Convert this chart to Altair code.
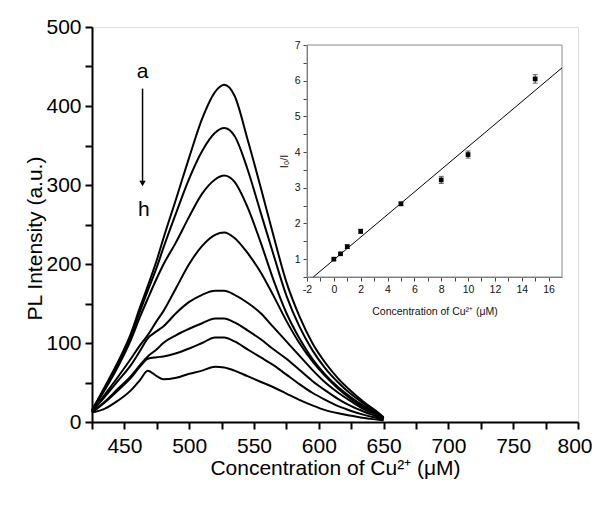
import altair as alt
import pandas as pd

# ---------------- main spectra ----------------
wavelength = [425, 435, 445, 455, 462, 468, 475, 480, 490, 500, 510, 520, 527,
              535, 545, 555, 565, 575, 585, 595, 605, 615, 625, 635, 645, 650]
curve_a = [15, 45, 76, 112, 145, 172, 205, 232, 283, 335, 384, 418, 427, 413, 358, 298, 236, 177, 134, 100, 75, 55, 39, 25, 13, 6]
curve_b = [15, 43, 73, 108, 140, 166, 196, 220, 265, 308, 343, 366, 372, 362, 320, 266, 212, 160, 121, 91, 68, 50, 35, 23, 12, 5]
curve_c = [14, 41, 70, 104, 133, 156, 182, 199, 228, 260, 289, 307, 312, 304, 272, 228, 180, 138, 106, 80, 60, 44, 31, 20, 11, 5]
curve_d = [13, 35, 57, 80, 97, 110, 128, 140, 170, 200, 223, 237, 240, 233, 214, 190, 160, 128, 100, 77, 58, 42, 29, 18, 10, 4]
curve_e = [13, 32, 52, 72, 90, 106, 115, 121, 138, 152, 161, 166, 166, 161, 151, 138, 120, 102, 84, 66, 50, 37, 26, 16, 9, 4]
curve_f = [12, 26, 42, 58, 72, 83, 92, 100, 110, 118, 125, 131, 131, 126, 116, 105, 92, 80, 66, 52, 40, 29, 20, 13, 7, 4]
curve_g = [12, 25, 40, 56, 70, 80, 82, 83, 87, 93, 100, 107, 107, 102, 92, 82, 72, 60, 48, 37, 28, 20, 14, 9, 5, 3]
curve_h = [12, 17, 27, 40, 53, 65, 58, 54, 56, 61, 65, 70, 69, 65, 58, 51, 44, 36, 28, 21, 15, 11, 8, 5, 3, 2]
series_names = ["a", "b", "c", "d", "e", "f", "g", "h"]
series_values = [curve_a, curve_b, curve_c, curve_d, curve_e, curve_f, curve_g, curve_h]

x_ticks = list(range(425, 801, 25))
y_ticks = list(range(0, 501, 50))

# ---------------- inset ----------------
conc = [0, 0.5, 1, 2, 5, 8, 10, 15]
ratio = [1.0, 1.15, 1.35, 1.78, 2.55, 3.22, 3.93, 6.05]
ratio_err = [0.03, 0.03, 0.05, 0.06, 0.05, 0.10, 0.10, 0.12]
fit_x = [-1.53, 17]
fit_y = [0.5, 6.36]
inset_x_ticks = list(range(-2, 17))
inset_y_ticks = [0.5 + 0.5 * i for i in range(14)]

FONT = "Liberation Sans"

rows = []
for name, vals in zip(series_names, series_values):
    for lam, v in zip(wavelength, vals):
        rows.append({"lam": lam, "I": v, "series": name})
spec_df = pd.DataFrame(rows)

x_scale = alt.Scale(domain=[425, 800], nice=False, zero=False)
y_scale = alt.Scale(domain=[0, 500], nice=False)

x_axis = alt.Axis(values=x_ticks, labelExpr="datum.value % 50 == 0 ? datum.label : ''",
                  title="Concentration of Cu²⁺ (μM)", grid=False, tickSize=7, tickWidth=2,
                  domainWidth=2, domainColor="black", tickColor="black", labelColor="black",
                  titleColor="black", labelFontSize=21, titleFontSize=21, titleFontWeight="normal",
                  labelPadding=6, titleX=243, titleY=46, titleBaseline="middle", labelFont=FONT,
                  titleFont=FONT, labelFlush=True, labelFlushOffset=14)
y_axis = alt.Axis(values=y_ticks, labelExpr="datum.value % 100 == 0 ? datum.label : ''",
                  title="PL Intensity (a.u.)", grid=False, tickSize=7, tickWidth=2,
                  domainWidth=2, domainColor="black", tickColor="black", labelColor="black",
                  titleColor="black", labelFontSize=21, titleFontSize=21, titleFontWeight="normal",
                  labelPadding=4, titleX=-57, titleY=211, titleAngle=-90, titleAlign="center",
                  titleBaseline="middle", labelFont=FONT, titleFont=FONT, labelFlush=False)

curves = alt.Chart(spec_df).mark_line(color="black", strokeWidth=2, interpolate="monotone").encode(
    x=alt.X("lam:Q", scale=x_scale, axis=x_axis),
    y=alt.Y("I:Q", scale=y_scale, axis=y_axis),
    detail="series:N",
)

arrow_df = pd.DataFrame({"lam": [464], "I": [422], "I2": [304]})
arrow = alt.Chart(arrow_df).mark_rule(color="black", strokeWidth=1.5).encode(
    x=alt.X("lam:Q", scale=x_scale, axis=x_axis),
    y=alt.Y("I:Q", scale=y_scale, axis=y_axis),
    y2="I2:Q",
)
head_df = pd.DataFrame({"lam": [464], "I": [302]})
head = alt.Chart(head_df).mark_point(shape="triangle-down", filled=True, color="black",
                                     size=40, opacity=1).encode(
    x=alt.X("lam:Q", scale=x_scale, axis=x_axis),
    y=alt.Y("I:Q", scale=y_scale, axis=y_axis),
)
lab_df = pd.DataFrame({"lam": [464, 465], "I": [443, 268], "t": ["a", "h"]})
labels = alt.Chart(lab_df).mark_text(fontSize=21, font=FONT, color="black", baseline="middle").encode(
    x=alt.X("lam:Q", scale=x_scale, axis=x_axis),
    y=alt.Y("I:Q", scale=y_scale, axis=y_axis),
    text="t:N",
)

main = alt.layer(curves, arrow, head, labels)

# inset scales placed in pixels inside main plot area
ix_scale = alt.Scale(domain=[-2, 17], range=[215, 470], nice=False, zero=False)
iy_scale = alt.Scale(domain=[0.5, 7], range=[250, 18], nice=False, zero=False)
ix_axis = alt.Axis(orient="bottom", offset=-145, values=inset_x_ticks,
                   labelExpr="datum.value % 2 == 0 ? '' + datum.value : ''",
                   title="Concentration of Cu²⁺ (μM)", grid=False, tickSize=4, tickWidth=1,
                   domainColor="#777777", tickColor="#444444", labelColor="#111111",
                   titleColor="#111111", labelFontSize=10.5, titleFontSize=10.5,
                   titleFontWeight="normal", labelPadding=3, titlePadding=12, labelFont=FONT,
                   titleFont=FONT, labelFlush=False)
iy_axis = alt.Axis(orient="left", offset=-215, values=inset_y_ticks,
                   labelExpr="datum.value % 1 == 0 ? '' + datum.value : ''",
                   title="I₀/I", grid=False, tickSize=4, tickWidth=1,
                   domainColor="#777777", tickColor="#444444", labelColor="#111111",
                   titleColor="#111111", labelFontSize=10.5, titleFontSize=11,
                   titleFontWeight="normal", labelPadding=3, titlePadding=5, labelFont=FONT,
                   titleFont=FONT, labelFlush=False)

frame_df = pd.DataFrame({"cx": [-2], "cx2": [17], "r": [0.5], "r2": [7]})
frame = alt.Chart(frame_df).mark_rect(fill="transparent", stroke="#888888", strokeWidth=1).encode(
    x=alt.X("cx:Q", scale=ix_scale, axis=ix_axis),
    x2="cx2:Q",
    y=alt.Y("r:Q", scale=iy_scale, axis=iy_axis),
    y2="r2:Q",
)
fit_df = pd.DataFrame({"cx": fit_x, "r": fit_y})
fit = alt.Chart(fit_df).mark_line(color="black", strokeWidth=1).encode(
    x=alt.X("cx:Q", scale=ix_scale, axis=ix_axis),
    y=alt.Y("r:Q", scale=iy_scale, axis=iy_axis),
)
pts_df = pd.DataFrame({"cx": conc, "r": ratio, "err": ratio_err})
pts_df["lo"] = pts_df["r"] - pts_df["err"]
pts_df["hi"] = pts_df["r"] + pts_df["err"]
err = alt.Chart(pts_df).mark_rule(color="#333333", strokeWidth=1).encode(
    x=alt.X("cx:Q", scale=ix_scale, axis=ix_axis),
    y=alt.Y("lo:Q", scale=iy_scale, axis=iy_axis),
    y2="hi:Q",
)
cap_lo = alt.Chart(pts_df).mark_tick(color="#333333", orient="horizontal", size=5, thickness=1).encode(
    x=alt.X("cx:Q", scale=ix_scale, axis=ix_axis),
    y=alt.Y("lo:Q", scale=iy_scale, axis=iy_axis),
)
cap_hi = alt.Chart(pts_df).mark_tick(color="#333333", orient="horizontal", size=5, thickness=1).encode(
    x=alt.X("cx:Q", scale=ix_scale, axis=ix_axis),
    y=alt.Y("hi:Q", scale=iy_scale, axis=iy_axis),
)
pts = alt.Chart(pts_df).mark_square(color="black", size=22, opacity=1).encode(
    x=alt.X("cx:Q", scale=ix_scale, axis=ix_axis),
    y=alt.Y("r:Q", scale=iy_scale, axis=iy_axis),
)
inset = alt.layer(frame, fit, err, cap_lo, cap_hi, pts)

chart = alt.layer(main, inset).resolve_scale(x="independent", y="independent").properties(
    width=486, height=395,
    autosize=alt.AutoSizeParams(type="none"),
    padding={"left": 84, "top": 19, "right": 14, "bottom": 70},
).configure_view(stroke="black", strokeWidth=2).configure(font=FONT, background="white")

chart.save("out.html", embed_options={"renderer": "svg", "actions": False})
